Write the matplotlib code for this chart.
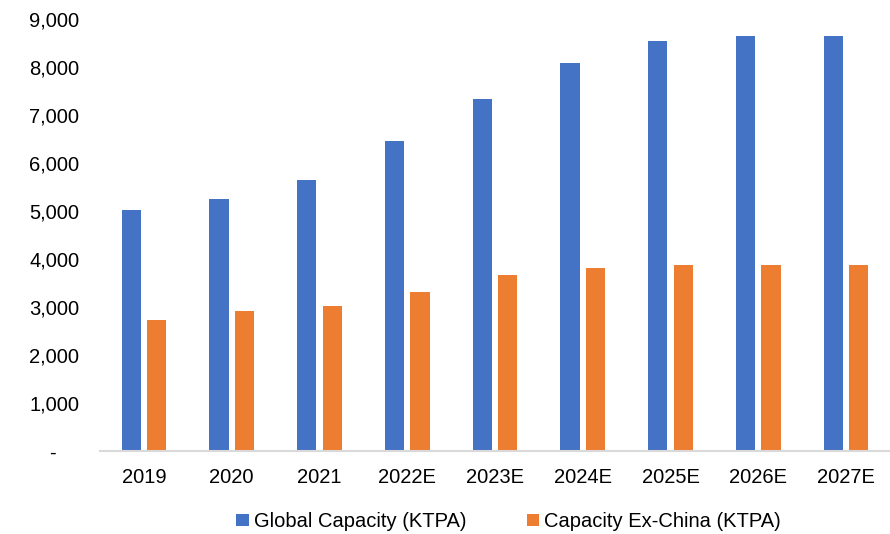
import matplotlib.pyplot as plt
import numpy as np

plt.rcParams['font.family'] = ['Liberation Sans', 'DejaVu Sans']

years = ['2019', '2020', '2021', '2022E', '2023E', '2024E', '2025E', '2026E', '2027E']
global_cap = [5010, 5240, 5650, 6450, 7325, 8080, 8545, 8640, 8640]
exchina_cap = [2740, 2925, 3030, 3310, 3675, 3805, 3880, 3880, 3880]

blue = '#4472C4'
orange = '#ED7D31'

fig = plt.figure(figsize=(8.9, 5.34), dpi=100)
ax = fig.add_axes([0.1124, 0.155, 0.8876, 0.81])

x = np.arange(len(years))
w = 0.22
ax.bar(x - 0.145, global_cap, w, color=blue, label='Global Capacity (KTPA)')
ax.bar(x + 0.145, exchina_cap, w, color=orange, label='Capacity Ex-China (KTPA)')

ax.set_xlim(-0.5, len(years) - 0.5)
ax.set_ylim(0, 9000)
ax.set_yticks(np.arange(0, 9001, 1000))
ax.set_yticklabels(['-    '] + [f'{v:,}' for v in range(1000, 9001, 1000)])
ax.set_xticks(x)
ax.set_xticklabels(years)
ax.tick_params(axis='both', length=0, labelsize=14.5, colors='#000000')
ax.tick_params(axis='y', pad=15)
ax.tick_params(axis='x', pad=12)

for s in ['top', 'right', 'left']:
    ax.spines[s].set_visible(False)
ax.spines['bottom'].set_color('#D9D9D9')
ax.spines['bottom'].set_linewidth(1.5)

ax.legend(loc='upper center', bbox_to_anchor=(0.517, -0.113), ncol=2, frameon=False,
          fontsize=14.5, handlelength=0.6, handleheight=0.6, handletextpad=0.25,
          columnspacing=3.0, borderpad=0.1)

fig.savefig('out.png', dpi=100)
